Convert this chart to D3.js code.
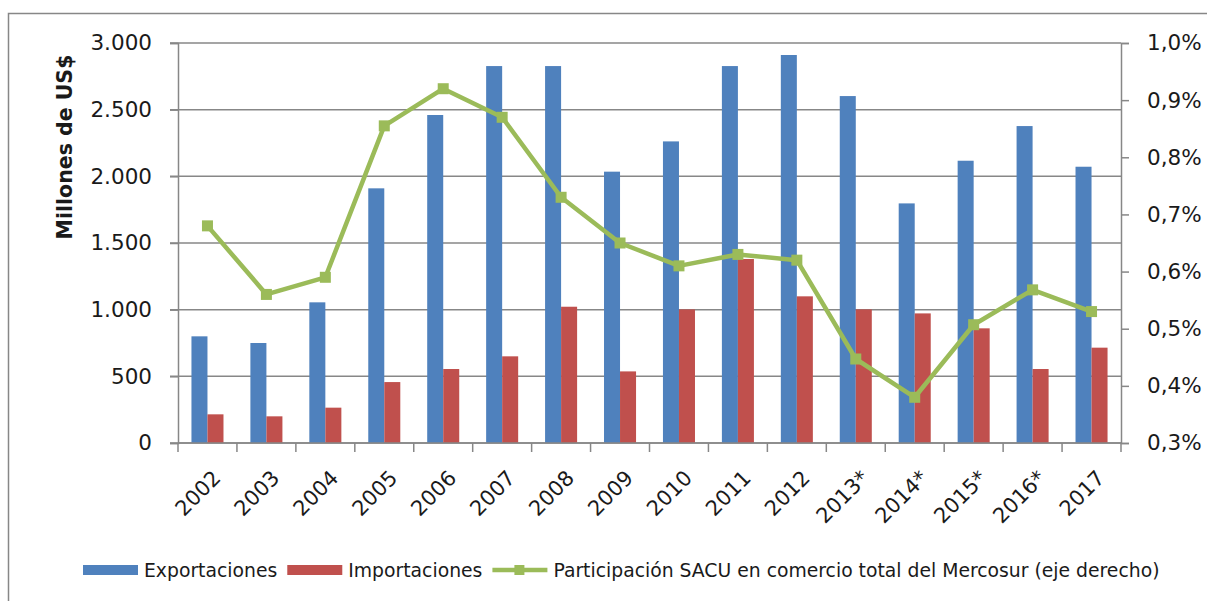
<!DOCTYPE html>
<html>
<head>
<meta charset="utf-8">
<script src="https://cdn.jsdelivr.net/npm/d3@7"></script>
<style>
  body { margin: 0; background: #fff; }
  text { font-family: "DejaVu Sans", Verdana, sans-serif; fill: #1a1a1a; }
</style>
</head>
<body>
<svg id="chart" width="1207" height="601"></svg>
<script>
// data
var years = ["2002", "2003", "2004", "2005", "2006", "2007", "2008", "2009",
  "2010", "2011", "2012", "2013*", "2014*", "2015*", "2016*", "2017"];
var exportaciones = [800, 750, 1055, 1910, 2460, 2827, 2827, 2035,
  2262, 2827, 2910, 2602, 1797, 2117, 2377, 2072];
var importaciones = [215, 200, 265, 457, 555, 650, 1022, 537,
  1002, 1380, 1100, 1002, 972, 860, 555, 715];
var participacion = [0.68, 0.56, 0.59, 0.855, 0.92, 0.87, 0.73, 0.65,
  0.61, 0.63, 0.62, 0.447, 0.38, 0.507, 0.568, 0.53];
var leftTicks = [0, 500, 1000, 1500, 2000, 2500, 3000];
var rightTicks = [0.3, 0.4, 0.5, 0.6, 0.7, 0.8, 0.9, 1.0];
var seriesNames = ["Exportaciones", "Importaciones",
  "Participación SACU en comercio total del Mercosur (eje derecho)"];

var blue = "#4f81bd", red = "#c0504d", green = "#9bbb59", grey = "#878787";

var svg = d3.select("#chart");
var plotLeft = 178, plotRight = 1121, plotTop = 43, plotBottom = 443;

// outer frame
svg.append("path")
  .attr("d", "M8.5,610 V13.5 H1215")
  .attr("fill", "none")
  .attr("stroke", grey)
  .attr("stroke-width", 1.5);

var x = d3.scaleBand().domain(years).range([plotLeft, plotRight]);
var xs = d3.scaleBand().domain(["exp", "imp"]).range([0, x.bandwidth()]).paddingOuter(0.84);
var y = d3.scaleLinear().domain([0, 3000]).range([plotBottom, plotTop]);
var yR = d3.scaleLinear().domain([0.3, 1.0]).range([plotBottom, plotTop]);

var fmtL = function(d) { return d3.format(",")(d).replace(/,/g, "."); };
var fmtR = function(d) { return d3.format(".1%")(d / 100).replace(".", ","); };

// gridlines
svg.append("g")
  .selectAll("line")
  .data(leftTicks)
  .enter()
  .append("line")
  .attr("x1", plotLeft - 8)
  .attr("x2", plotRight)
  .attr("y1", function(d) { return y(d); })
  .attr("y2", function(d) { return y(d); })
  .attr("stroke", grey)
  .attr("stroke-width", 1.5);

// left axis
var gL = svg.append("g").attr("transform", "translate(" + plotLeft + ",0)")
  .call(d3.axisLeft(y).tickValues(leftTicks).tickFormat(fmtL).tickSize(8).tickPadding(18));
gL.select(".domain").attr("stroke", grey).attr("stroke-width", 1.5);
gL.selectAll(".tick line").attr("stroke", grey).attr("stroke-width", 1.5);
gL.selectAll("text").style("font-size", "21.5px").attr("fill", "#1a1a1a");

// right axis
var gR = svg.append("g").attr("transform", "translate(" + plotRight + ",0)")
  .call(d3.axisRight(yR).tickValues(rightTicks).tickFormat(fmtR).tickSize(8).tickPadding(18));
gR.select(".domain").attr("stroke", grey).attr("stroke-width", 1.5);
gR.selectAll(".tick line").attr("stroke", grey).attr("stroke-width", 1.5);
gR.selectAll("text").style("font-size", "21.5px").attr("fill", "#1a1a1a");

// bars
var groups = svg.append("g")
  .selectAll("g")
  .data(years)
  .enter()
  .append("g")
  .attr("transform", function(d) { return "translate(" + x(d) + ",0)"; });

groups.append("rect")
  .attr("x", xs("exp"))
  .attr("width", xs.bandwidth())
  .attr("y", function(d, i) { return y(exportaciones[i]); })
  .attr("height", function(d, i) { return plotBottom - y(exportaciones[i]); })
  .attr("fill", blue);

groups.append("rect")
  .attr("x", xs("imp"))
  .attr("width", xs.bandwidth())
  .attr("y", function(d, i) { return y(importaciones[i]); })
  .attr("height", function(d, i) { return plotBottom - y(importaciones[i]); })
  .attr("fill", red);

// x axis line and ticks at category boundaries
svg.append("line")
  .attr("x1", plotLeft).attr("x2", plotRight)
  .attr("y1", plotBottom).attr("y2", plotBottom)
  .attr("stroke", grey).attr("stroke-width", 1.5);

svg.append("g")
  .selectAll("line")
  .data(years.concat(["end"]))
  .enter()
  .append("line")
  .attr("x1", function(d) { return d == "end" ? plotRight : x(d); })
  .attr("x2", function(d) { return d == "end" ? plotRight : x(d); })
  .attr("y1", plotBottom)
  .attr("y2", plotBottom + 9)
  .attr("stroke", grey)
  .attr("stroke-width", 1.5);

// rotated year labels
svg.append("g")
  .selectAll("text")
  .data(years)
  .enter()
  .append("text")
  .attr("transform", function(d) {
    return "translate(" + (x(d) + x.bandwidth() / 2 + 4) + "," + (plotBottom + 26) + ") rotate(-45)";
  })
  .attr("text-anchor", "end")
  .attr("dy", "0.7em")
  .style("font-size", "21px")
  .text(function(d) { return d; });

// participation line
var line = d3.line()
  .x(function(d, i) { return x(years[i]) + x.bandwidth() / 2; })
  .y(function(d) { return yR(d); });

svg.append("path")
  .datum(participacion)
  .attr("d", line)
  .attr("fill", "none")
  .attr("stroke", green)
  .attr("stroke-width", 4.5)
  .attr("stroke-linejoin", "round");

svg.append("g")
  .selectAll("rect")
  .data(participacion)
  .enter()
  .append("rect")
  .attr("x", function(d, i) { return x(years[i]) + x.bandwidth() / 2 - 5.5; })
  .attr("y", function(d) { return yR(d) - 5.5; })
  .attr("width", 11)
  .attr("height", 11)
  .attr("fill", green);

// y axis title
svg.append("text")
  .attr("transform", "translate(72,147) rotate(-90)")
  .attr("text-anchor", "middle")
  .style("font-size", "20.5px")
  .style("font-weight", "bold")
  .text("Millones de US$");

// legend
var legend = svg.append("g").attr("transform", "translate(83,570)");
var lx = 0;
seriesNames.forEach(function(name, i) {
  var item = legend.append("g").attr("transform", "translate(" + lx + ",0)");
  if (i < 2) {
    item.append("rect")
      .attr("x", 0).attr("y", -5).attr("width", 55).attr("height", 10)
      .attr("fill", i == 0 ? blue : red);
  } else {
    item.append("line")
      .attr("x1", 0).attr("x2", 55).attr("y1", 0).attr("y2", 0)
      .attr("stroke", green).attr("stroke-width", 4.5);
    item.append("rect")
      .attr("x", 22).attr("y", -5).attr("width", 10).attr("height", 10)
      .attr("fill", green);
  }
  var t = item.append("text")
    .attr("x", 61)
    .attr("dy", "0.35em")
    .style("font-size", "18.8px")
    .text(name);
  lx += 61 + t.node().getComputedTextLength() + 10;
});
</script>
</body>
</html>
